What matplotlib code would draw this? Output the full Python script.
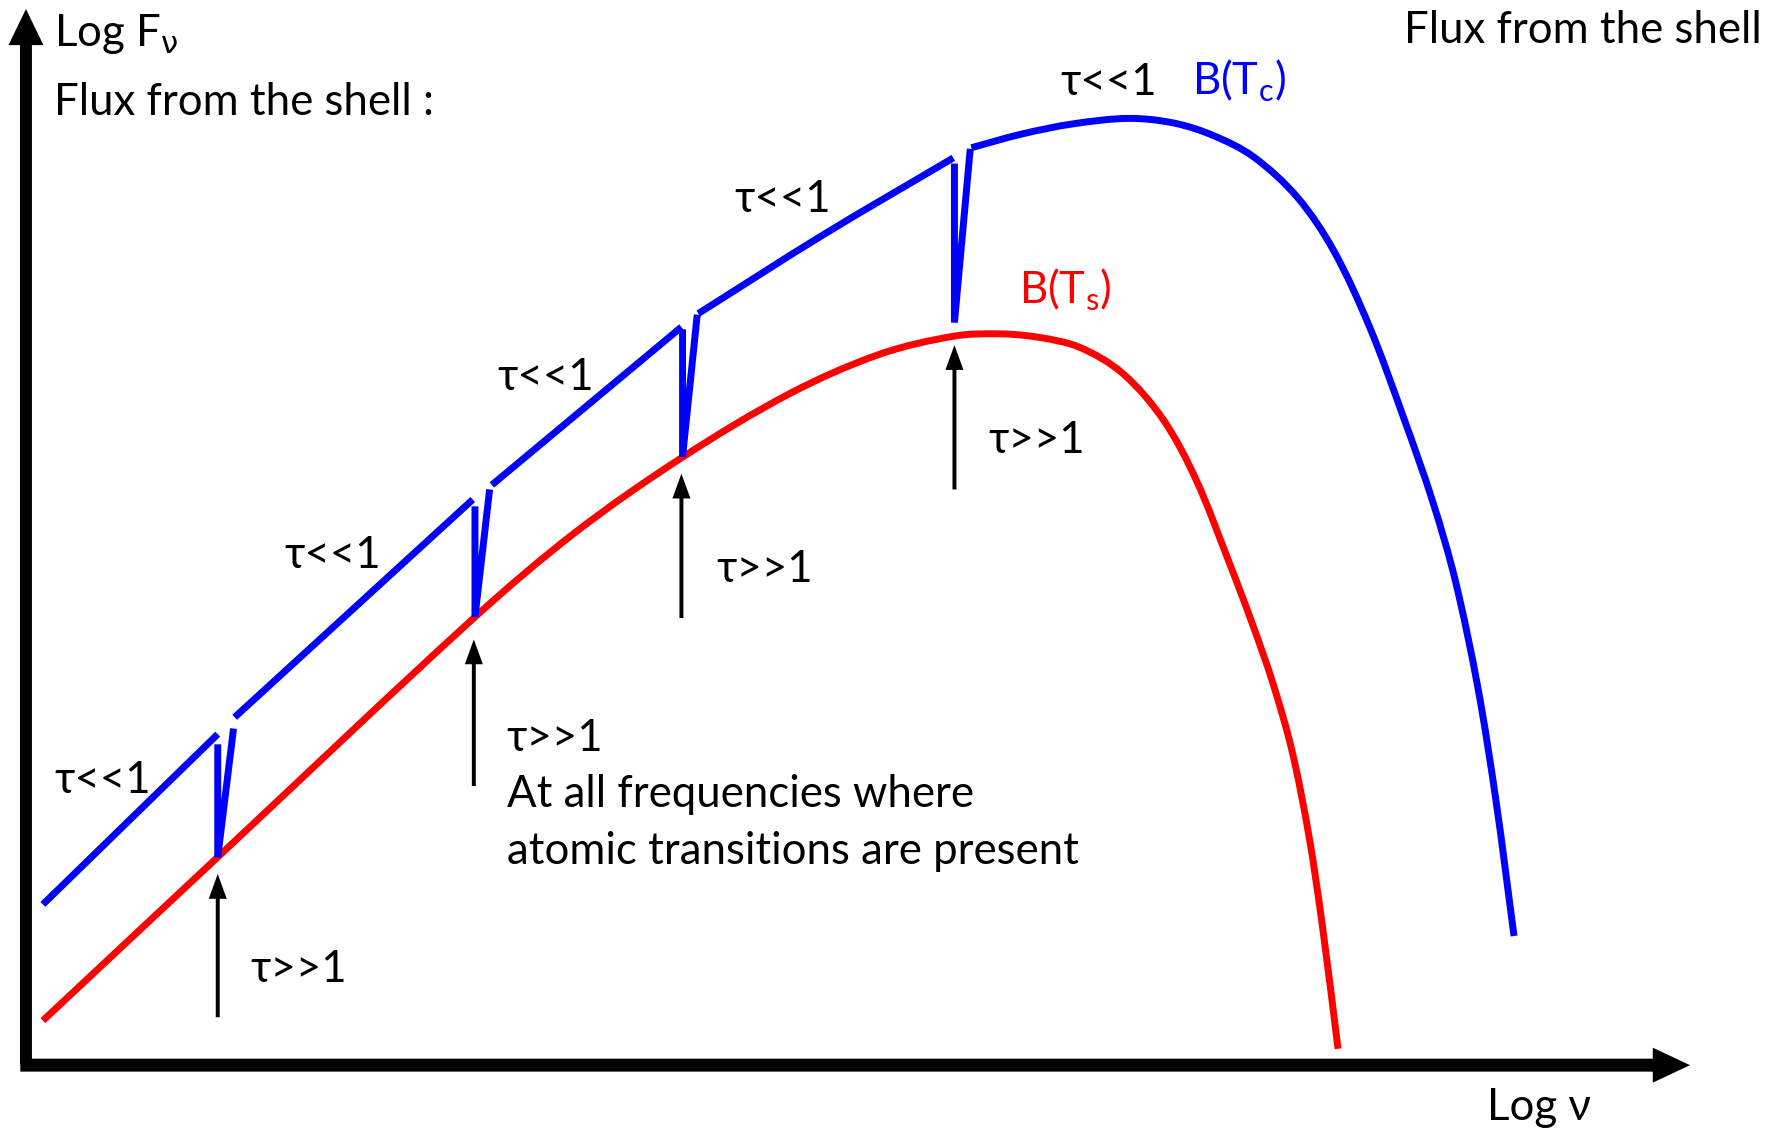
import numpy as np
import matplotlib
matplotlib.use("Agg")
import matplotlib.pyplot as plt
from matplotlib.path import Path
from matplotlib.patches import PathPatch

plt.rcParams['font.family'] = ['Lato', 'DejaVu Sans']
plt.rcParams['mathtext.fontset'] = 'dejavusans'

nan = np.nan

# schematic (x: log nu, y: log F, drawing units, y grows downward)
blue_x = [38, 193, nan, 208, 419, nan, 436, 604, nan, 619, 730, 845, nan,
          861, 905, 950, 1000, 1040, 1075, 1111, 1150, 1182, 1214, 1244, 1270,
          1290, 1310, 1326, 1342]
blue_y = [802, 651, nan, 636, 443, nan, 430, 290, nan, 278, 208, 140, nan,
          131, 119, 110, 105, 109, 120, 139, 175, 222, 290, 370, 445,
          515, 610, 710, 830]

red_x = [38, 193, 420, 510, 604, 700, 780, 846, 885, 920, 957, 995, 1031, 1060,
         1090, 1110, 1128, 1145, 1160, 1172, 1186]
red_y = [905, 760, 548, 472, 406, 349, 314, 298, 296, 299, 308, 331, 372, 425,
         500, 553, 605, 665, 740, 820, 930]

# absorption lines: left edge top -> bottom -> right edge top
line_x = [193, 421, 605, 846]
line_top = [660, 449, 292, 145]
line_bottom = [760, 547, 405, 286]
line_right_x = [207, 434, 618, 860]
line_right_y = [646, 434, 279, 132]

# tau >> 1 arrows
arrow_x = [193, 420, 604, 846]
arrow_base = [902, 697, 548, 434]
arrow_tip = [775, 567, 420, 306]

thin_x = [48, 252, 441, 651, 940]
thin_y = [692, 493, 335, 177, 73]
thick_x = [222, 449, 635, 876]
thick_y = [860, 655, 505, 391]


def smooth_path(xs, ys):
    # smooth curve through the read points (chord-weighted tangents, cubic beziers)
    pts = np.column_stack([xs, ys])
    n = len(pts)
    d = np.hypot(*np.diff(pts, axis=0).T)
    tang = np.zeros_like(pts)
    tang[0] = (pts[1] - pts[0]) / d[0]
    tang[-1] = (pts[-1] - pts[-2]) / d[-1]
    for i in range(1, n - 1):
        tang[i] = (pts[i + 1] - pts[i - 1]) / (d[i - 1] + d[i])
    verts = [pts[0]]
    codes = [Path.MOVETO]
    for i in range(n - 1):
        verts += [pts[i] + tang[i] * d[i] / 3, pts[i + 1] - tang[i + 1] * d[i] / 3, pts[i + 1]]
        codes += [Path.CURVE4] * 3
    return Path(verts, codes)


def draw_curve(ax, xs, ys, color, lw):
    xs = np.asarray(xs, float)
    ys = np.asarray(ys, float)
    breaks = np.where(np.isnan(xs))[0]
    for seg in np.split(np.arange(len(xs)), breaks):
        seg = seg[~np.isnan(xs[seg])]
        if len(seg) < 2:
            continue
        ax.add_patch(PathPatch(smooth_path(xs[seg], ys[seg]), fill=False,
                               edgecolor=color, lw=lw, capstyle='butt'))


W, H = 1568, 1002
fig = plt.figure(figsize=(17.69, 11.30), dpi=100)
ax = fig.add_axes([0, 0, 1, 1])
ax.set_xlim(0, W)
ax.set_ylim(H, 0)
ax.axis('off')

lw = 5.0
blue = '#0000ff'
red = '#ff0000'

draw_curve(ax, red_x, red_y, red, lw)
draw_curve(ax, blue_x, blue_y, blue, lw)
for i in range(len(line_x)):
    ax.plot([line_x[i], line_x[i], line_right_x[i]],
            [line_top[i], line_bottom[i], line_right_y[i]],
            color=blue, lw=lw, solid_capstyle='butt', solid_joinstyle='miter')

for i in range(len(arrow_x)):
    ax.arrow(arrow_x[i], arrow_base[i], 0, arrow_tip[i] - arrow_base[i],
             width=3.5, head_width=16, head_length=22,
             length_includes_head=True, color='black', lw=0)

# axes arrows
ax.arrow(23, 944, 0, 8 - 944, width=10.6, head_width=31, head_length=32,
         length_includes_head=True, color='black', lw=0)
ax.arrow(18, 944.5, 1498 - 18, 0, width=11.5, head_width=31, head_length=33,
         length_includes_head=True, color='black', lw=0)

fs = 31.5
off = 11
for x, y in zip(thin_x, thin_y):
    ax.text(x, y + off, 'τ<<1', fontsize=fs, va='baseline')
for x, y in zip(thick_x, thick_y):
    ax.text(x, y + off, 'τ>>1', fontsize=fs, va='baseline')

ax.text(1057, 73 + off, r'B(T$_\mathregular{c}$)', fontsize=fs, color=blue, va='baseline')
ax.text(903, 258 + off, r'B(T$_\mathregular{s}$)', fontsize=fs, color=red, va='baseline')

ax.text(449, 705 + off, 'At all frequencies where', fontsize=fs, va='baseline')
ax.text(449, 755 + off, 'atomic transitions are present', fontsize=fs, va='baseline')

ax.text(48, 30 + off, r'Log F$_\mathrm{\nu}$', fontsize=fs, va='baseline')
ax.text(48, 91 + off, 'Flux from the shell :', fontsize=fs, va='baseline')
ax.text(1562, 27 + off, 'Flux from the shell', fontsize=fs, va='baseline', ha='right')
ax.text(1318, 982 + off, 'Log ν', fontsize=fs, va='baseline')

fig.savefig('out.png', dpi=100)
